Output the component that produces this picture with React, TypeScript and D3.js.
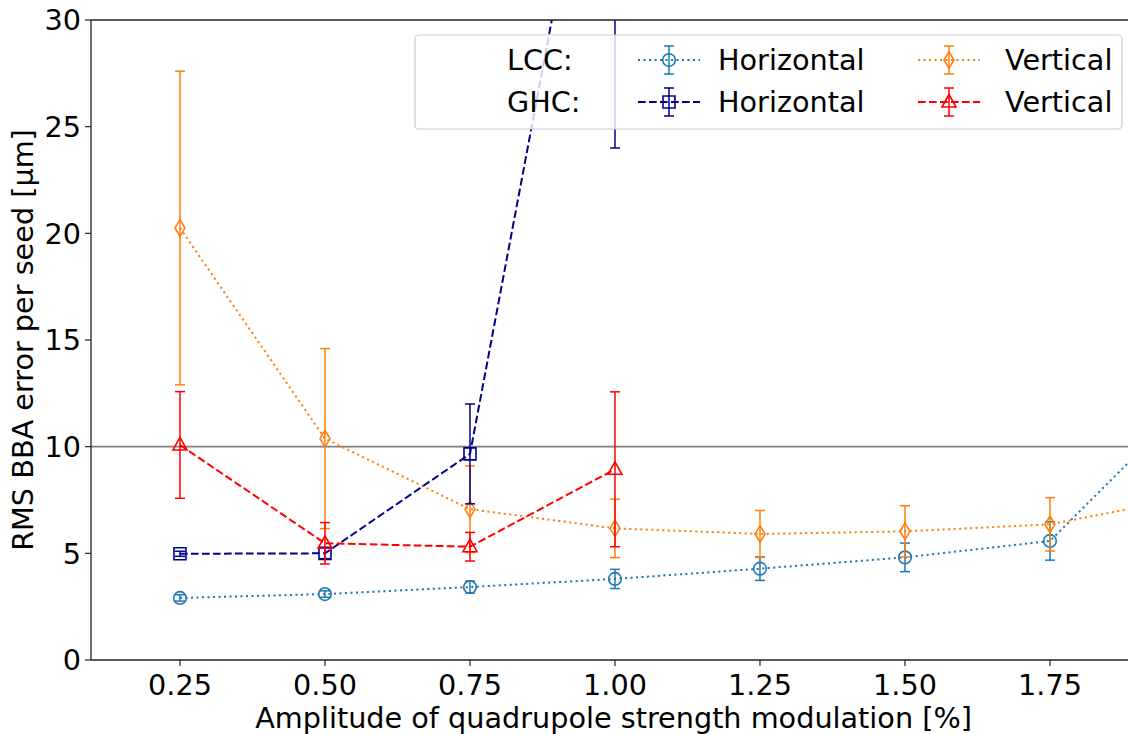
import React from "react";
import * as d3 from "d3";

// Modulation amplitudes [%]
const amplitudes = [0.25, 0.5, 0.75, 1.0, 1.25, 1.5, 1.75, 2.0];
const ghcAmplitudes = [0.25, 0.5, 0.75, 1.0];

// LCC results
const lccHorizontal = [2.91, 3.09, 3.42, 3.8, 4.28, 4.81, 5.58, 12.37];
const lccHorizontalErr = [0.15, 0.15, 0.28, 0.45, 0.55, 0.67, 0.9, 1.5];
const lccVertical = [20.25, 10.38, 7.07, 6.17, 5.91, 6.03, 6.36, 7.68];
const lccVerticalErr = [7.35, 4.22, 2.03, 1.37, 1.1, 1.2, 1.25, 1.3];

// GHC results
const ghcHorizontal = [4.98, 5.0, 9.66, 45.7];
const ghcHorizontalErr = [0.12, 0.25, 2.34, 21.7];
const ghcVertical = [10.08, 5.47, 5.31, 8.94];
const ghcVerticalErr = [2.5, 0.97, 0.67, 3.63];

const xTicks = [0.25, 0.5, 0.75, 1.0, 1.25, 1.5, 1.75];
const yTicks = [0, 5, 10, 15, 20, 25, 30];
const threshold = 10;

const W = 1128;
const H = 734;
const left = 91;
const right = 1136;
const top = 20;
const bottom = 660;
const FONT = "'DejaVu Sans', sans-serif";
const FS = 28.7;

const x = d3.scaleLinear().domain([0.0966, 1.8983]).range([left, right]);
const y = d3.scaleLinear().domain([0, 30]).range([bottom, top]);

type Marker = "circle" | "diamond" | "square" | "triangle";

interface Series {
  xs: number[];
  ys: number[];
  errs: number[];
  color: string;
  dash: string;
  marker: Marker;
}

const series: Series[] = [
  { xs: amplitudes, ys: lccHorizontal, errs: lccHorizontalErr, color: "#1f77b4", dash: "2.1 3.4", marker: "circle" },
  { xs: amplitudes, ys: lccVertical, errs: lccVerticalErr, color: "#ff7f0e", dash: "2.1 3.4", marker: "diamond" },
  { xs: ghcAmplitudes, ys: ghcHorizontal, errs: ghcHorizontalErr, color: "#00008b", dash: "7.7 3.3", marker: "square" },
  { xs: ghcAmplitudes, ys: ghcVertical, errs: ghcVerticalErr, color: "#ff0000", dash: "7.7 3.3", marker: "triangle" },
];

function markerPath(m: Marker): string {
  switch (m) {
    case "circle":
      return d3.arc()({ innerRadius: 0, outerRadius: 6.3, startAngle: 0, endAngle: 2 * Math.PI }) as string;
    case "diamond":
      return "M0,-8.3L5,0L0,8.3L-5,0Z";
    case "square":
      return "M-6,-6L6,-6L6,6L-6,6Z";
    case "triangle":
      return "M0,-7.5L7,5L-7,5Z";
  }
}

function MarkerShape({ m, color, cx, cy }: { m: Marker; color: string; cx: number; cy: number }) {
  if (m === "circle") {
    return <circle cx={cx} cy={cy} r={6.3} fill="none" stroke={color} strokeWidth={1.6} />;
  }
  return <path d={markerPath(m)} transform={`translate(${cx},${cy})`} fill="none" stroke={color} strokeWidth={1.6} />;
}

function ErrorBar({ cx, y0, y1, color }: { cx: number; y0: number; y1: number; color: string }) {
  const cap = 5;
  return (
    <g stroke={color} strokeWidth={1.5}>
      <line x1={cx} x2={cx} y1={y0} y2={y1} />
      <line x1={cx - cap} x2={cx + cap} y1={y0} y2={y0} />
      <line x1={cx - cap} x2={cx + cap} y1={y1} y2={y1} />
    </g>
  );
}

const line = d3
  .line<[number, number]>()
  .x((d) => x(d[0]))
  .y((d) => y(d[1]));

export default function App() {
  const legendRows = [
    { label: "LCC:", items: [series[0], series[1]] },
    { label: "GHC:", items: [series[2], series[3]] },
  ];
  const legendNames = ["Horizontal", "Vertical"];
  const handleX = [669, 949];
  const textX = [718, 1005];
  const rowY = [60, 102];

  return (
    <svg
      width={W}
      height={H}
      style={{ position: "absolute", left: 0, top: 0, background: "#fff" }}
      fontFamily={FONT}
    >
      <defs>
        <clipPath id="plot-area">
          <rect x={left} y={top} width={right - left} height={bottom - top} />
        </clipPath>
      </defs>

      <g clipPath="url(#plot-area)">
        {/* 10 µm reference level */}
        <line x1={left} x2={right} y1={y(threshold)} y2={y(threshold)} stroke="#808080" strokeWidth={1.8} />

        {series.map((s, i) => {
          const pts = s.xs.map((v, j) => [v, s.ys[j]] as [number, number]);
          return (
            <g key={i}>
              <path d={line(pts) as string} fill="none" stroke={s.color} strokeWidth={2} strokeDasharray={s.dash} />
              {pts.map((p, j) => (
                <ErrorBar
                  key={"e" + j}
                  cx={x(p[0])}
                  y0={y(p[1] + s.errs[j])}
                  y1={y(p[1] - s.errs[j])}
                  color={s.color}
                />
              ))}
              {pts.map((p, j) => (
                <MarkerShape key={"m" + j} m={s.marker} color={s.color} cx={x(p[0])} cy={y(p[1])} />
              ))}
            </g>
          );
        })}
      </g>

      {/* spines */}
      <g stroke="#222" strokeWidth={1.3} fill="none">
        <line x1={left} x2={left} y1={top} y2={bottom} />
        <line x1={left} x2={right} y1={bottom} y2={bottom} />
        <line x1={left} x2={right} y1={top} y2={top} />
        <line x1={right} x2={right} y1={top} y2={bottom} />
      </g>

      {/* x axis ticks */}
      {xTicks.map((t) => (
        <g key={"x" + t}>
          <line x1={x(t)} x2={x(t)} y1={bottom} y2={bottom + 6} stroke="#222" strokeWidth={1.2} />
          <text x={x(t)} y={695} textAnchor="middle" fontSize={FS} fill="#000">
            {d3.format(".2f")(t)}
          </text>
        </g>
      ))}

      {/* y axis ticks */}
      {yTicks.map((t) => (
        <g key={"y" + t}>
          <line x1={left - 6} x2={left} y1={y(t)} y2={y(t)} stroke="#222" strokeWidth={1.2} />
          <text x={left - 10} y={y(t)} dy="0.36em" textAnchor="end" fontSize={FS} fill="#000">
            {t}
          </text>
        </g>
      ))}

      <text x={(left + right) / 2} y={728} textAnchor="middle" fontSize={FS} fill="#000">
        Amplitude of quadrupole strength modulation [%]
      </text>
      <text
        transform={`translate(33,${(top + bottom) / 2}) rotate(-90)`}
        textAnchor="middle"
        fontSize={FS}
        fill="#000"
      >
        RMS BBA error per seed [μm]
      </text>

      {/* legend */}
      <g>
        <rect x={415} y={35} width={707} height={94} rx={4} fill="#fff" fillOpacity={0.8} stroke="#cccccc" strokeWidth={1.2} />
        {legendRows.map((row, r) => (
          <g key={"lr" + r}>
            <text x={507} y={rowY[r]} dy="0.36em" fontSize={FS} fill="#000">
              {row.label}
            </text>
            {row.items.map((s, c) => (
              <g key={"li" + c}>
                <line
                  x1={handleX[c] - 31}
                  x2={handleX[c] + 31}
                  y1={rowY[r]}
                  y2={rowY[r]}
                  stroke={s.color}
                  strokeWidth={2}
                  strokeDasharray={s.dash}
                />
                <ErrorBar cx={handleX[c]} y0={rowY[r] - 14} y1={rowY[r] + 14} color={s.color} />
                <MarkerShape m={s.marker} color={s.color} cx={handleX[c]} cy={rowY[r]} />
                <text x={textX[c]} y={rowY[r]} dy="0.36em" fontSize={FS} fill="#000">
                  {legendNames[c]}
                </text>
              </g>
            ))}
          </g>
        ))}
      </g>
    </svg>
  );
}
